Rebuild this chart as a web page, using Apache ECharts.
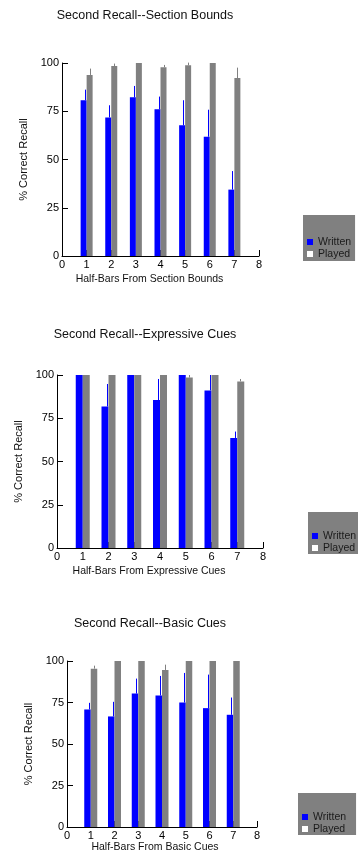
<!DOCTYPE html>
<html>
<head>
<meta charset="utf-8">
<script src="https://cdn.jsdelivr.net/npm/echarts@6/dist/echarts.min.js"></script>
<style>
html,body{margin:0;padding:0;background:#fff;}
#c{width:358px;height:854px;}
</style>
</head>
<body>
<div id="c"></div>
<script>
// ---- data ----
const categories = ['0','1','2','3','4','5','6','7','8'];
const yTicks = [0, 25, 50, 75, 100];
const seriesNames = ['Written', 'Played'];

const titles = ['Second Recall--Section Bounds', 'Second Recall--Expressive Cues', 'Second Recall--Basic Cues'];
const xNames = ['Half-Bars From Section Bounds', 'Half-Bars From Expressive Cues', 'Half-Bars From Basic Cues'];
const yName = '% Correct Recall';

// values for half-bars 1..7
const sectionWritten    = [80.7, 71.8, 82.2, 76.0, 67.7, 61.8, 34.4];
const sectionWrittenErr = [5.5, 6.3, 5.9, 6.6, 13.0, 14.0, 9.6];
const sectionPlayed     = [93.8, 98.4, 100, 97.8, 98.8, 100, 92.2];
const sectionPlayedErr  = [3.3, 1.3, 0, 1.2, 1.4, 0, 5.4];

const expressiveWritten    = [100, 81.8, 100, 85.5, 100, 91.1, 63.6];
const expressiveWrittenErr = [0, 13.0, 0, 12.2, 0, 8.9, 3.7];
const expressivePlayed     = [100, 100, 100, 100, 98.5, 100, 96.3];
const expressivePlayedErr  = [0, 0, 0, 0, 1.5, 0, 1.4];

const basicWritten    = [70.8, 66.6, 80.4, 79.2, 75.0, 71.6, 67.6];
const basicWrittenErr = [4.0, 8.8, 9.0, 11.8, 17.8, 20.2, 10.4];
const basicPlayed     = [95.4, 100, 100, 94.6, 100, 100, 100];
const basicPlayedErr  = [1.8, 0, 0, 3.2, 0, 0, 0];

const panels = [
  {w: sectionWritten, we: sectionWrittenErr, p: sectionPlayed, pe: sectionPlayedErr},
  {w: expressiveWritten, we: expressiveWrittenErr, p: expressivePlayed, pe: expressivePlayedErr},
  {w: basicWritten, we: basicWrittenErr, p: basicPlayed, pe: basicPlayedErr}
];

// ---- layout / style ----
const FONT = '"Liberation Sans", Arial, Helvetica, sans-serif';
const BLUE = '#0000ff';
const GRAY = '#808080';
const grids = [
  {left: 62, top: 63, width: 197, height: 193},
  {left: 57, top: 375, width: 206, height: 173},
  {left: 67, top: 661, width: 190, height: 167}
];
const titlePos = [{x: 145, y: 9}, {x: 145, y: 328}, {x: 150, y: 617}];
const yNameGap = [29, 28, 27];
const xNameGap = [18, 18, 15];
const xNameShift = [22, 22, 14];
const barWidths = [6, 7, 6.5];
const legendPos = [
  {left: 303, top: 215, padding: [21, 4, 1, 4]},
  {left: 308, top: 512, padding: [18, 30, 0, 4]},
  {left: 298, top: 793, padding: [18, 10, 0, 4]}
];

function padded(arr) { return [null].concat(arr, [null]); }
function errData(vals, errs) {
  return vals.map((v, i) => [i + 1, v, errs[i]]);
}
function errRender(offset, color) {
  return function (params, api) {
    const e = api.value(2);
    if (!(e > 0)) return null;
    const x = api.value(0), y = api.value(1);
    const p0 = api.coord([x, y]);
    const p1 = api.coord([x, y + e]);
    const px = Math.round(p0[0] + offset) + 0.5;
    return {
      type: 'line',
      shape: {x1: px, y1: p0[1], x2: px, y2: p1[1]},
      style: {stroke: color, lineWidth: 1}
    };
  };
}

const option = {
  animation: false,
  backgroundColor: '#fff',
  textStyle: {fontFamily: FONT},
  title: titles.map((t, i) => ({
    text: t, left: titlePos[i].x, top: titlePos[i].y, textAlign: 'center', padding: 0,
    textStyle: {fontFamily: FONT, fontSize: 12.5, fontWeight: 'normal', color: '#111'}
  })),
  legend: legendPos.map((l, i) => ({
    left: l.left, top: l.top, padding: l.padding, orient: 'vertical',
    backgroundColor: GRAY, borderWidth: 0, borderRadius: 0,
    itemWidth: 6, itemHeight: 6, itemGap: 0, icon: 'rect',
    selectedMode: false,
    textStyle: {fontFamily: FONT, fontSize: 10.5, color: '#1a1a1a', lineHeight: 12},
    data: [{name: 'Written', itemStyle: {color: BLUE}}, {name: 'Played', itemStyle: {color: '#fff'}}]
  })),
  grid: grids.map(g => Object.assign({containLabel: false}, g)),
  xAxis: grids.map((g, i) => ({
    gridIndex: i, type: 'category', data: categories, boundaryGap: false,
    axisLine: {show: true, lineStyle: {color: '#000', width: 1}},
    axisTick: {show: true, inside: true, length: 6, lineStyle: {color: '#000'}},
    axisLabel: {fontFamily: FONT, fontSize: 11, color: '#000', margin: 3, interval: 0},
    splitLine: {show: false},
    name: xNames[i], nameLocation: 'middle', nameGap: xNameGap[i],
    nameTextStyle: {fontFamily: FONT, fontSize: 10.5, color: '#111', padding: [0, xNameShift[i], 0, 0]}
  })),
  yAxis: grids.map((g, i) => ({
    gridIndex: i, type: 'value', min: yTicks[0], max: yTicks[yTicks.length - 1], interval: 25,
    axisLine: {show: true, lineStyle: {color: '#000', width: 1}},
    axisTick: {show: true, inside: true, length: 6, lineStyle: {color: '#000'}},
    axisLabel: {fontFamily: FONT, fontSize: 11, color: '#000', margin: 3},
    splitLine: {show: false},
    name: yName, nameLocation: 'middle', nameRotate: 90, nameGap: yNameGap[i],
    nameTextStyle: {fontFamily: FONT, fontSize: 11, color: '#111'}
  })),
  series: []
};

panels.forEach((pn, i) => {
  option.series.push({
    name: seriesNames[0], type: 'bar', xAxisIndex: i, yAxisIndex: i,
    data: padded(pn.w), barWidth: barWidths[i], barGap: '0%',
    itemStyle: {color: BLUE}, z: 3
  });
  option.series.push({
    name: seriesNames[1], type: 'bar', xAxisIndex: i, yAxisIndex: i,
    data: padded(pn.p), barWidth: barWidths[i], barGap: '0%',
    itemStyle: {color: GRAY}, z: 3
  });
  option.series.push({
    type: 'custom', xAxisIndex: i, yAxisIndex: i, z: 4,
    data: errData(pn.w, pn.we), renderItem: errRender(-2, BLUE),
    encode: {x: 0, y: 1}
  });
  option.series.push({
    type: 'custom', xAxisIndex: i, yAxisIndex: i, z: 4,
    data: errData(pn.p, pn.pe), renderItem: errRender(3, GRAY),
    encode: {x: 0, y: 1}
  });
});

const chart = echarts.init(document.getElementById('c'), null, {renderer: 'canvas'});
chart.setOption(option);
</script>
</body>
</html>
